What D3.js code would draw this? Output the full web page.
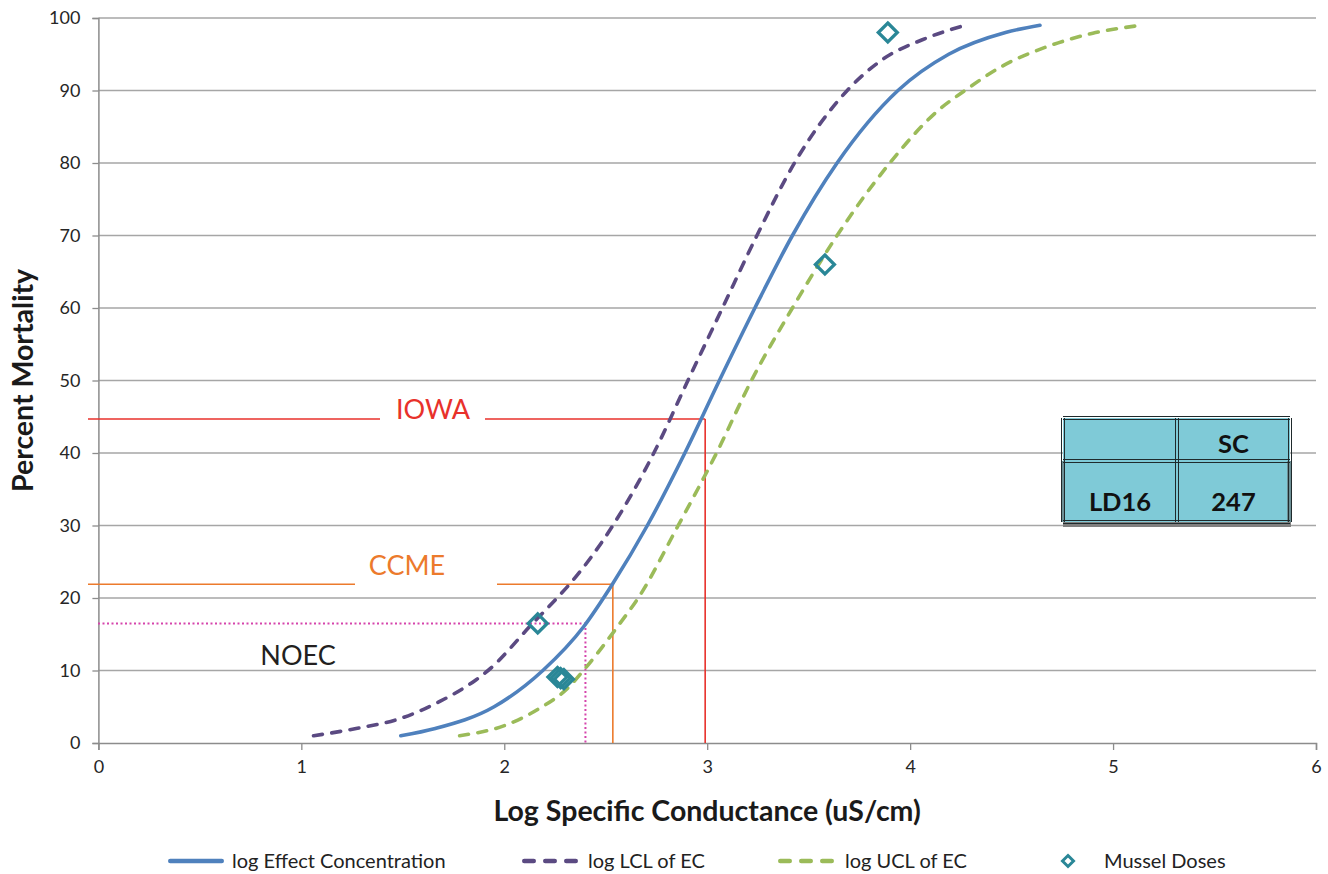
<!DOCTYPE html>
<html>
<head>
<meta charset="utf-8">
<script src="https://cdn.jsdelivr.net/npm/d3@7"></script>
<style>
  html, body { margin: 0; padding: 0; background: #fff; }
  svg { display: block; font-family: Lato, "Open Sans", sans-serif; }
</style>
</head>
<body>
<svg id="chart" width="1328" height="874"></svg>
<script>
// ---- data: log specific conductance (uS/cm) vs percent mortality ----
const effectConc = [
  [1.49, 1], [1.66, 2], [1.95, 5], [2.19, 10], [2.39, 16], [2.535, 22],
  [2.705, 30], [2.89, 40], [3.06, 50], [3.235, 60], [3.42, 70], [3.64, 80],
  [3.94, 90], [4.19, 95], [4.47, 98], [4.64, 99]
];
const lclEC = [
  [1.06, 1], [1.27, 2], [1.49, 3.4], [1.68, 5.7], [1.86, 8.7], [1.92, 10],
  [2.14, 16.5], [2.26, 20], [2.325, 22], [2.535, 30], [2.737, 40], [2.905, 50],
  [3.075, 60], [3.245, 70], [3.43, 80], [3.69, 90], [3.87, 94.4], [4.06, 97],
  [4.27, 99]
];
const uclEC = [
  [1.78, 1], [2.01, 2.5], [2.175, 4.8], [2.31, 7.5], [2.39, 10], [2.57, 16.5],
  [2.66, 20], [2.857, 30], [3.046, 40], [3.218, 50], [3.42, 60], [3.64, 70],
  [3.90, 80], [4.14, 87.3], [4.27, 90], [4.45, 93.3], [4.67, 96], [4.90, 97.9],
  [5.14, 99]
];
const musselDoses = [
  [3.89, 98], [3.58, 66], [2.165, 16.5], [2.262, 9.1], [2.278, 8.95], [2.294, 8.8]
];
// benchmark lines: log SC and the mortality where they meet the effect curve
const benchmarks = [
  { name: "IOWA", logSC: 2.99, mortality: 44.7, color: "#e8312b", style: "solid" },
  { name: "CCME", logSC: 2.535, mortality: 21.9, color: "#ec7a2c", style: "solid" },
  { name: "NOEC", logSC: 2.40, mortality: 16.5, color: "#d545ac", style: "dotted" }
];
const xTicks = [0, 1, 2, 3, 4, 5, 6];
const yTicks = [0, 10, 20, 30, 40, 50, 60, 70, 80, 90, 100];
const tableHeader = ["", "SC"];
const tableRow = ["LD16", "247"];
const seriesNames = ["log Effect Concentration", "log LCL of EC", "log UCL of EC", "Mussel Doses"];

// ---- layout ----
const plot = { left: 98.4, right: 1316, top: 18, bottom: 743 };
const colors = { effect: "#4f81bd", lcl: "#5b4a82", ucl: "#9bbb59", dose: "#2a8797" };

const svg = d3.select("#chart");
const x = d3.scaleLinear().domain([0, 6]).range([plot.left, plot.right]);
const y = d3.scaleLinear().domain([0, 100]).range([plot.bottom, plot.top]);

// horizontal grid
svg.append("g")
  .selectAll("line").data(yTicks.filter(d => d > 0)).join("line")
  .attr("x1", plot.left).attr("x2", plot.right)
  .attr("y1", d => y(d)).attr("y2", d => y(d))
  .attr("stroke", "#a6a6a6").attr("stroke-width", 1.3);

// axes
const yAxis = svg.append("g")
  .attr("transform", `translate(${plot.left},0)`)
  .call(d3.axisLeft(y).tickValues(yTicks).tickSize(6).tickPadding(12).tickFormat(d3.format("d")));
const xAxis = svg.append("g")
  .attr("transform", `translate(0,${plot.bottom})`)
  .call(d3.axisBottom(x).tickValues(xTicks).tickSize(7).tickPadding(10).tickFormat(d3.format("d")));
[yAxis, xAxis].forEach(g => {
  g.selectAll(".domain").attr("stroke", "#8c8c8c").attr("stroke-width", 1.5);
  g.selectAll(".tick line").attr("stroke", "#8c8c8c").attr("stroke-width", 1.3);
  g.selectAll(".tick text").attr("fill", "#262626")
    .style("font-family", "Lato, sans-serif").style("font-size", "18px");
});

// axis titles
svg.append("text")
  .attr("x", (plot.left + plot.right) / 2).attr("y", 821)
  .attr("text-anchor", "middle").attr("font-weight", "bold")
  .attr("font-size", 28.5).attr("fill", "#1a1a1a")
  .text("Log Specific Conductance (uS/cm)");
svg.append("text")
  .attr("transform", `translate(33,${(plot.top + plot.bottom) / 2}) rotate(-90)`)
  .attr("text-anchor", "middle").attr("font-weight", "bold")
  .attr("font-size", 28.5).attr("fill", "#1a1a1a")
  .text("Percent Mortality");

// benchmark lines with labels sitting in a gap of the horizontal segment
const labelLayout = {
  IOWA: { left: 88, gapL: 380, gapR: 485, cx: 433, baseline: 0, size: 27 },
  CCME: { left: 88, gapL: 355, gapR: 497, cx: 407, baseline: -9, size: 27 },
  NOEC: { left: 98, gapL: null, gapR: null, cx: 298, baseline: 42, size: 27 }
};
benchmarks.forEach(b => {
  const L = labelLayout[b.name];
  const g = svg.append("g")
    .attr("stroke", b.color)
    .attr("stroke-width", b.style === "dotted" ? 2 : 1.6)
    .attr("stroke-dasharray", b.style === "dotted" ? "2,2.5" : null)
    .attr("fill", "none");
  const yy = y(b.mortality), xx = x(b.logSC);
  if (L.gapL !== null) {
    g.append("line").attr("x1", L.left).attr("x2", L.gapL).attr("y1", yy).attr("y2", yy);
    g.append("line").attr("x1", L.gapR).attr("x2", xx).attr("y1", yy).attr("y2", yy);
  } else {
    g.append("line").attr("x1", L.left).attr("x2", xx).attr("y1", yy).attr("y2", yy);
  }
  g.append("line").attr("x1", xx).attr("x2", xx).attr("y1", yy).attr("y2", plot.bottom);
  svg.append("text")
    .attr("x", L.cx).attr("y", yy + L.baseline)
    .attr("text-anchor", "middle").attr("font-size", L.size)
    .attr("fill", b.style === "dotted" ? "#231f20" : b.color)
    .text(b.name);
});

// curves
const line = d3.line()
  .x(d => x(d[0])).y(d => y(d[1]))
  .curve(d3.curveMonotoneX);
const curves = [
  { data: effectConc, color: colors.effect, dash: null },
  { data: lclEC, color: colors.lcl, dash: "9,9.5" },
  { data: uclEC, color: colors.ucl, dash: "9,9.5" }
];
svg.append("g").selectAll("path").data(curves).join("path")
  .attr("d", d => line(d.data))
  .attr("fill", "none")
  .attr("stroke", d => d.color)
  .attr("stroke-width", 3.6)
  .attr("stroke-linecap", "round")
  .attr("stroke-dasharray", d => d.dash);

// mussel dose markers
const diamond = r => `M0,${-r}L${r},0L0,${r}L${-r},0Z`;
svg.append("g").selectAll("path").data(musselDoses).join("path")
  .attr("transform", d => `translate(${x(d[0])},${y(d[1])})`)
  .attr("d", diamond(9.5))
  .attr("fill", "none")
  .attr("stroke", colors.dose)
  .attr("stroke-width", 3.3);

// LD16 table
const tb = { x0: 1063, x1: 1290, xm: 1177, y0: 418, ym: 461, y1: 522 };
const tg = svg.append("g");
tg.append("rect").attr("x", tb.x0).attr("y", tb.y1).attr("width", tb.x1 - tb.x0 + 1).attr("height", 5).attr("fill", "#7f7f7f");
tg.append("rect").attr("x", tb.x0).attr("y", tb.y0).attr("width", tb.x1 - tb.x0).attr("height", tb.y1 - tb.y0).attr("fill", "#7fcad7");
tg.append("rect").attr("x", tb.x0 - 1).attr("y", tb.ym).attr("width", 3).attr("height", tb.y1 - tb.ym).attr("fill", "#6d8f95");
tg.append("rect").attr("x", tb.x1 - 3).attr("y", tb.ym).attr("width", 4).attr("height", tb.y1 - tb.ym).attr("fill", "#6d8f95");
const dbl = (x1, y1, x2, y2, horiz) => {
  [-1.5, 1.5].forEach(o => {
    tg.append("line")
      .attr("x1", x1 + (horiz ? 0 : o)).attr("x2", x2 + (horiz ? 0 : o))
      .attr("y1", y1 + (horiz ? o : 0)).attr("y2", y2 + (horiz ? o : 0))
      .attr("stroke", "#1f2a2c").attr("stroke-width", 1);
  });
};
dbl(tb.x0, tb.y0, tb.x1, tb.y0, true);
dbl(tb.x0, tb.ym, tb.x1, tb.ym, true);
dbl(tb.x0, tb.y1, tb.x1, tb.y1, true);
dbl(tb.x0, tb.y0, tb.x0, tb.y1, false);
dbl(tb.xm, tb.y0, tb.xm, tb.y1, false);
dbl(tb.x1, tb.y0, tb.x1, tb.y1, false);
const cellCx = [(tb.x0 + tb.xm) / 2, (tb.xm + tb.x1) / 2];
tableHeader.forEach((t, i) => {
  tg.append("text").attr("x", cellCx[i]).attr("y", 453)
    .attr("text-anchor", "middle").attr("font-weight", "bold").attr("font-size", 25.5)
    .attr("fill", "#111").text(t);
});
tableRow.forEach((t, i) => {
  tg.append("text").attr("x", cellCx[i]).attr("y", 511)
    .attr("text-anchor", "middle").attr("font-weight", "bold").attr("font-size", 25.5)
    .attr("fill", "#111").text(t);
});

// legend
const legendY = 861;
const legendItems = [
  { name: seriesNames[0], kind: "line", color: colors.effect, dash: null, sx: 168, tx: 232 },
  { name: seriesNames[1], kind: "line", color: colors.lcl, dash: "9.5,11.5", sx: 522, tx: 588 },
  { name: seriesNames[2], kind: "line", color: colors.ucl, dash: "9.5,11.5", sx: 778, tx: 845 },
  { name: seriesNames[3], kind: "marker", color: colors.dose, dash: null, sx: 1062, tx: 1104 }
];
const lg = svg.append("g");
legendItems.forEach(it => {
  if (it.kind === "line") {
    lg.append("line")
      .attr("x1", it.sx + 2.25).attr("x2", it.sx + 53.75).attr("y1", legendY).attr("y2", legendY)
      .attr("stroke", it.color).attr("stroke-width", 4.5)
      .attr("stroke-linecap", "round")
      .attr("stroke-dasharray", it.dash);
  } else {
    lg.append("path")
      .attr("transform", `translate(${it.sx + 6},${legendY})`)
      .attr("d", diamond(5.5))
      .attr("fill", "none").attr("stroke", it.color).attr("stroke-width", 3);
  }
  lg.append("text").attr("x", it.tx).attr("y", legendY + 7)
    .attr("font-size", 20).attr("fill", "#222").text(it.name);
});
</script>
</body>
</html>
